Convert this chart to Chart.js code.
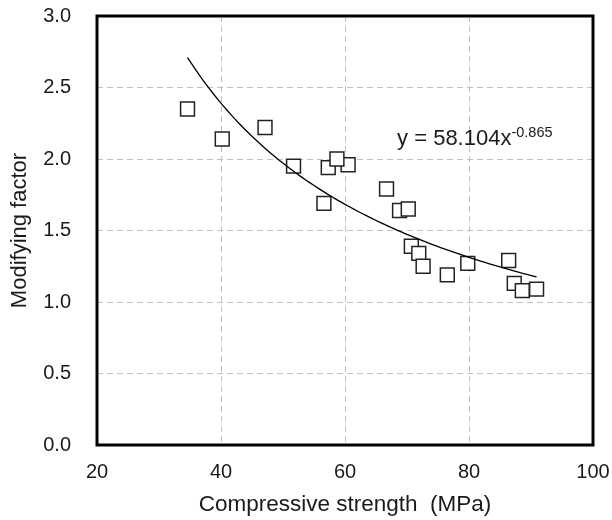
<!DOCTYPE html>
<html>
<head>
<meta charset="utf-8">
<script src="https://cdn.jsdelivr.net/npm/chart.js@4/dist/chart.umd.min.js"></script>
<style>
  html, body { margin: 0; padding: 0; background: #fff; }
  #chart-container { width: 612px; height: 520px; }
</style>
</head>
<body>
<div id="chart-container"><canvas id="strength-chart" width="612" height="520"></canvas></div>
<script>
const compressiveStrength = [34.6, 40.2, 47.1, 51.7, 56.6, 57.3, 60.5, 58.7, 66.7, 68.8, 70.2, 70.7, 71.9, 72.6, 76.5, 79.8, 86.4, 87.3, 88.6, 90.9];
const modifyingFactor = [2.35, 2.14, 2.22, 1.95, 1.69, 1.94, 1.96, 2.00, 1.79, 1.64, 1.65, 1.39, 1.34, 1.25, 1.19, 1.27, 1.29, 1.13, 1.08, 1.09];
const xTicks = [20, 40, 60, 80, 100];
const yTicks = [0, 0.5, 1.0, 1.5, 2.0, 2.5, 3.0];

// power trendline shown on the chart: y = 58.104x^-0.865
const fitCoefficient = 58.104;
const fitExponent = -0.865;
const equationText = "y = 58.104x";
const equationPower = "-0.865";
const equationAnchor = [68.4, 2.10];

const fontFamily = "'Liberation Sans', Arial, sans-serif";
const textColor = "#1a1a1a";

function buildScatterPoints() {
  return compressiveStrength.map((x, i) => ({x: x, y: modifyingFactor[i]}));
}

function buildTrendPoints() {
  const start = Math.min(...compressiveStrength);
  const end = Math.max(...compressiveStrength);
  const steps = 80;
  const points = [];
  for (let i = 0; i <= steps; i++) {
    const x = start + (end - start) * i / steps;
    points.push({x: x, y: fitCoefficient * Math.pow(x, fitExponent)});
  }
  return points;
}

// thick black box around the plot area
const frameBorder = {
  id: 'frameBorder',
  beforeDatasetsDraw(chart) {
    const {ctx, chartArea} = chart;
    ctx.save();
    ctx.strokeStyle = '#000';
    ctx.lineWidth = 3;
    ctx.strokeRect(chartArea.left, chartArea.top, chartArea.right - chartArea.left, chartArea.bottom - chartArea.top);
    ctx.restore();
  }
};

const equationLabel = {
  id: 'equationLabel',
  afterDatasetsDraw(chart) {
    const {ctx, scales} = chart;
    const px = scales.x.getPixelForValue(equationAnchor[0]);
    const py = scales.y.getPixelForValue(equationAnchor[1]);
    ctx.save();
    ctx.fillStyle = textColor;
    ctx.textBaseline = 'alphabetic';
    ctx.textAlign = 'left';
    ctx.font = "22px " + fontFamily;
    ctx.fillText(equationText, px, py);
    const w = ctx.measureText(equationText).width;
    ctx.font = "14.5px " + fontFamily;
    ctx.fillText(equationPower, px + w, py - 8);
    ctx.restore();
  }
};

// keep the plot box at fixed pixel edges
function fixHorizontal(scale) {
  scale.height = 75;
  scale.paddingLeft = 0;
  scale.paddingRight = 0;
}

function fixVertical(scale) {
  scale.width = 97;
  scale.paddingTop = 0;
  scale.paddingBottom = 0;
}

new Chart(document.getElementById('strength-chart').getContext('2d'), {
  type: 'scatter',
  data: {
    datasets: [
      {
        type: 'line',
        label: 'Power fit',
        data: buildTrendPoints(),
        borderColor: '#000',
        borderWidth: 1.3,
        pointRadius: 0,
        order: 0
      },
      {
        label: 'Modifying factor',
        data: buildScatterPoints(),
        pointStyle: 'rect',
        pointRadius: 9.8,
        pointBorderWidth: 1.5,
        pointBorderColor: '#222',
        pointBackgroundColor: '#fff',
        order: 1
      }
    ]
  },
  options: {
    responsive: false,
    animation: false,
    devicePixelRatio: 1,
    layout: {padding: {top: 16, right: 19, left: 0, bottom: 0}, autoPadding: false},
    plugins: {legend: {display: false}, tooltip: {enabled: false}},
    scales: {
      x: {
        type: 'linear', min: 20, max: 100,
        afterBuildTicks: scale => { scale.ticks = xTicks.map(v => ({value: v})); },
        afterFit: fixHorizontal,
        grid: {color: '#c2c2c2', drawTicks: false},
        border: {display: false, dash: [6, 4]},
        ticks: {color: textColor, padding: 15, font: {family: fontFamily, size: 20}},
        title: {
          display: true,
          text: 'Compressive strength  (MPa)',
          color: textColor,
          font: {family: fontFamily, size: 22.5},
          padding: {top: 0, bottom: 2}
        }
      },
      y: {
        type: 'linear', min: 0, max: 3,
        afterBuildTicks: scale => { scale.ticks = yTicks.map(v => ({value: v})); },
        afterFit: fixVertical,
        grid: {color: '#c2c2c2', drawTicks: false},
        border: {display: false, dash: [6, 4]},
        ticks: {
          color: textColor,
          padding: 26,
          font: {family: fontFamily, size: 20},
          callback: value => Number(value).toFixed(1)
        },
        title: {
          display: true,
          text: 'Modifying factor',
          color: textColor,
          font: {family: fontFamily, size: 22},
          padding: {top: 7, bottom: 0}
        }
      }
    }
  },
  plugins: [frameBorder, equationLabel]
});
</script>
</body>
</html>
